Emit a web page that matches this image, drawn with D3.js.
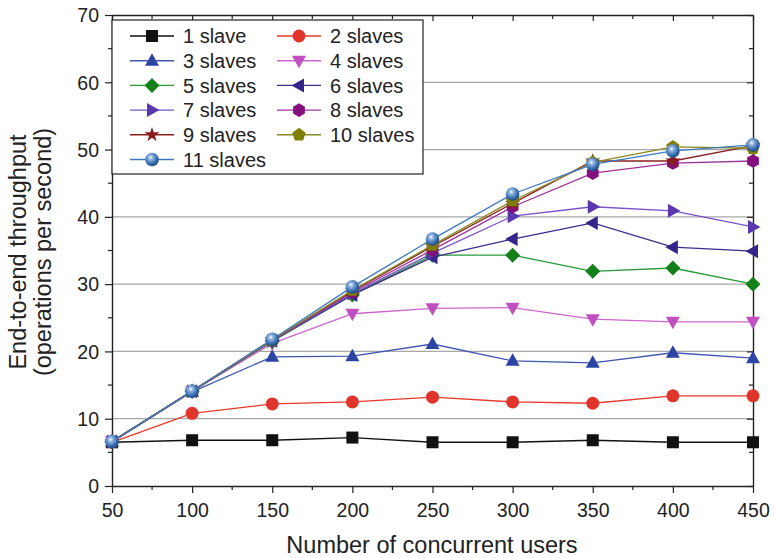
<!DOCTYPE html>
<html><head><meta charset="utf-8">
<script src="https://cdn.jsdelivr.net/npm/d3@7"></script>
<style>body{margin:0;background:#fff}svg{display:block}text{font-family:"Liberation Sans",Arial,sans-serif;fill:#222}</style>
</head><body><svg id="c" width="774" height="558"></svg>
<script>
const users = [50,100,150,200,250,300,350,400,450];
const seriesNames = ["1 slave","2 slaves","3 slaves","4 slaves","5 slaves","6 slaves","7 slaves","8 slaves","9 slaves","10 slaves","11 slaves"];
const s1  = [6.5,6.8,6.8,7.2,6.5,6.5,6.8,6.5,6.5];
const s2  = [6.5,10.8,12.2,12.5,13.2,12.5,12.3,13.4,13.4];
const s3  = [6.6,14.0,19.2,19.3,21.1,18.6,18.3,19.8,19.0];
const s4  = [6.6,14.1,21.2,25.6,26.4,26.5,24.8,24.4,24.4];
const s5  = [6.6,14.1,21.5,28.4,34.3,34.3,31.9,32.4,30.0];
const s6  = [6.6,14.1,21.6,28.4,34.0,36.7,39.1,35.5,34.9];
const s7  = [6.6,14.1,21.6,28.6,34.6,40.1,41.5,40.9,38.5];
const s8  = [6.6,14.1,21.7,28.8,35.1,41.5,46.5,48.0,48.3];
const s9  = [6.6,14.1,21.7,29.0,35.6,42.0,48.3,48.3,50.6];
const s10 = [6.6,14.1,21.7,29.1,35.8,42.4,48.1,50.4,50.2];
const s11 = [6.6,14.1,21.8,29.6,36.7,43.4,47.8,49.8,50.7];
const allSeries = [s1,s2,s3,s4,s5,s6,s7,s8,s9,s10,s11];
const xTicks = [50,100,150,200,250,300,350,400,450];
const yTicks = [0,10,20,30,40,50,60,70];

const lineColors = ["#111111","#e53a2c","#3f56b0","#cc66cc","#2a9a3a","#3c2c8c","#7a50c8","#a0309a","#8b2020","#8a8a20","#3d78c0"];
const markColors = ["#111111","#e0352a","#2c44a4","#c050c0","#14801a","#35258a","#5a38b0","#84107e","#8b1c1c","#7e7e00","#3a6eb0"];
const shapes = ["square","circle","triUp","triDown","diamond","triLeft","triRight","hexagon","star","pentagon","sphere"];

const svg = d3.select("#c");
const L=112,R=753,T=15,B=486;
const x = d3.scaleLinear().domain([50,450]).range([L,R]);
const y = d3.scaleLinear().domain([0,70]).range([B,T]);

const defs = svg.append("defs");
const g = defs.append("radialGradient").attr("id","sph").attr("cx","40%").attr("cy","35%").attr("r","65%");
g.append("stop").attr("offset","0%").attr("stop-color","#ffffff");
g.append("stop").attr("offset","25%").attr("stop-color","#8fb4e0");
g.append("stop").attr("offset","70%").attr("stop-color","#3a6eb0");
g.append("stop").attr("offset","100%").attr("stop-color","#1f4c86");

// grid
svg.append("g").selectAll("line").data([10,20,30,40,50,60]).join("line")
  .attr("x1",L).attr("x2",R).attr("y1",d=>y(d)).attr("y2",d=>y(d))
  .attr("stroke","#a8a8a8").attr("stroke-width",1.3);

// axes
const fmt = d3.format("d");
const minorY = d3.range(5,70,10);
const minorX = d3.range(75,450,50);
const axL = svg.append("g").attr("transform",`translate(${L},0)`).call(d3.axisLeft(y).tickValues(yTicks).tickSize(7).tickSizeOuter(0).tickPadding(5).tickFormat(fmt));
axL.append("g").selectAll("line").data(minorY).join("line").attr("x1",-4).attr("x2",0).attr("y1",d=>y(d)).attr("y2",d=>y(d)).attr("stroke","#222");
const axB = svg.append("g").attr("transform",`translate(0,${B})`).call(d3.axisBottom(x).tickValues(xTicks).tickSize(7).tickSizeOuter(0).tickPadding(5).tickFormat(fmt));
axB.append("g").selectAll("line").data(minorX).join("line").attr("y1",0).attr("y2",4).attr("x1",d=>x(d)).attr("x2",d=>x(d)).attr("stroke","#222");
const axT = svg.append("g").attr("transform",`translate(0,${T})`).call(d3.axisBottom(x).tickValues(xTicks).tickSize(6).tickSizeOuter(0).tickFormat(""));
axT.append("g").selectAll("line").data(minorX).join("line").attr("y1",0).attr("y2",4).attr("x1",d=>x(d)).attr("x2",d=>x(d)).attr("stroke","#222");
const axR = svg.append("g").attr("transform",`translate(${R},0)`).call(d3.axisRight(y).tickValues(yTicks).tickSize(-6).tickSizeOuter(0).tickFormat(""));
axR.append("g").selectAll("line").data(minorY).join("line").attr("x1",-4).attr("x2",0).attr("y1",d=>y(d)).attr("y2",d=>y(d)).attr("stroke","#222");
[axL,axB,axT,axR].forEach(a=>{a.selectAll(".domain").attr("stroke","#222").attr("stroke-width",1.4);a.selectAll("line").attr("stroke","#222").attr("stroke-width",1.2);});
svg.selectAll(".tick text").style("font-size","19.5px").attr("fill","#222");
axL.selectAll(".tick text").attr("dy","0.35em").attr("x",-13);
axB.selectAll(".tick text").attr("dy","0.95em");

// marker drawing
function marker(sel, shape, color, cx, cy){
  const gg = sel.append("g").attr("transform",`translate(${cx},${cy})`);
  const st = c=>gg.append("path").attr("fill",c);
  switch(shape){
    case "square": gg.append("rect").attr("x",-6).attr("y",-6).attr("width",12).attr("height",12).attr("fill",color); break;
    case "circle": gg.append("circle").attr("r",6.5).attr("fill",color); break;
    case "triUp": st(color).attr("d","M0,-7.5L7,5L-7,5Z"); break;
    case "triDown": st(color).attr("d","M0,7.5L7,-5L-7,-5Z"); break;
    case "triLeft": st(color).attr("d","M-7.5,0L5,-7L5,7Z"); break;
    case "triRight": st(color).attr("d","M7.5,0L-5,-7L-5,7Z"); break;
    case "diamond": st(color).attr("d","M0,-7.5L7.5,0L0,7.5L-7.5,0Z"); break;
    case "hexagon": { const p=d3.range(6).map(i=>{const a=Math.PI/6+i*Math.PI/3;return [6.8*Math.cos(a),6.8*Math.sin(a)];}); st(color).attr("d","M"+p.join("L")+"Z"); break; }
    case "pentagon": { const p=d3.range(5).map(i=>{const a=-Math.PI/2+i*2*Math.PI/5;return [7*Math.cos(a),7*Math.sin(a)];}); st(color).attr("d","M"+p.join("L")+"Z"); break; }
    case "star": st(color).attr("d", d3.symbol(d3.symbolStar, 70)()); break;
    case "sphere": gg.append("circle").attr("r",6.8).attr("fill","url(#sph)"); break;
  }
}

const line = d3.line().x((d,i)=>x(users[i])).y(d=>y(d));
allSeries.forEach((s,k)=>{
  const gs = svg.append("g");
  gs.append("path").datum(s).attr("d",line).attr("fill","none").attr("stroke",lineColors[k]).attr("stroke-width",1.3);
  s.forEach((v,i)=>marker(gs,shapes[k],markColors[k],x(users[i]),y(v)));
});

// legend
const lg = svg.append("g");
lg.append("rect").attr("x",112).attr("y",20).attr("width",311).attr("height",154).attr("fill","#fff").attr("stroke","#222").attr("stroke-width",1.2);
seriesNames.forEach((n,k)=>{
  const col = k%2, row = Math.floor(k/2);
  const x0 = col===0?130:277, cy = 36+row*24.7;
  lg.append("line").attr("x1",x0).attr("x2",x0+44).attr("y1",cy).attr("y2",cy).attr("stroke",lineColors[k]).attr("stroke-width",1.4);
  marker(lg,shapes[k],markColors[k],x0+22,cy);
  lg.append("text").attr("x",x0+53).attr("y",cy).attr("dy","0.36em").style("font-size","20px").text(n);
});

// titles
svg.append("text").attr("x",432).attr("y",553).attr("text-anchor","middle").style("font-size","23.5px").text("Number of concurrent users");
const yt = svg.append("text").attr("transform","translate(0,252) rotate(-90)").attr("text-anchor","middle").style("font-size","23.5px");
yt.append("tspan").attr("x",0).attr("y",26).text("End-to-end throughput");
yt.append("tspan").attr("x",0).attr("y",51).text("(operations per second)");
</script></body></html>
